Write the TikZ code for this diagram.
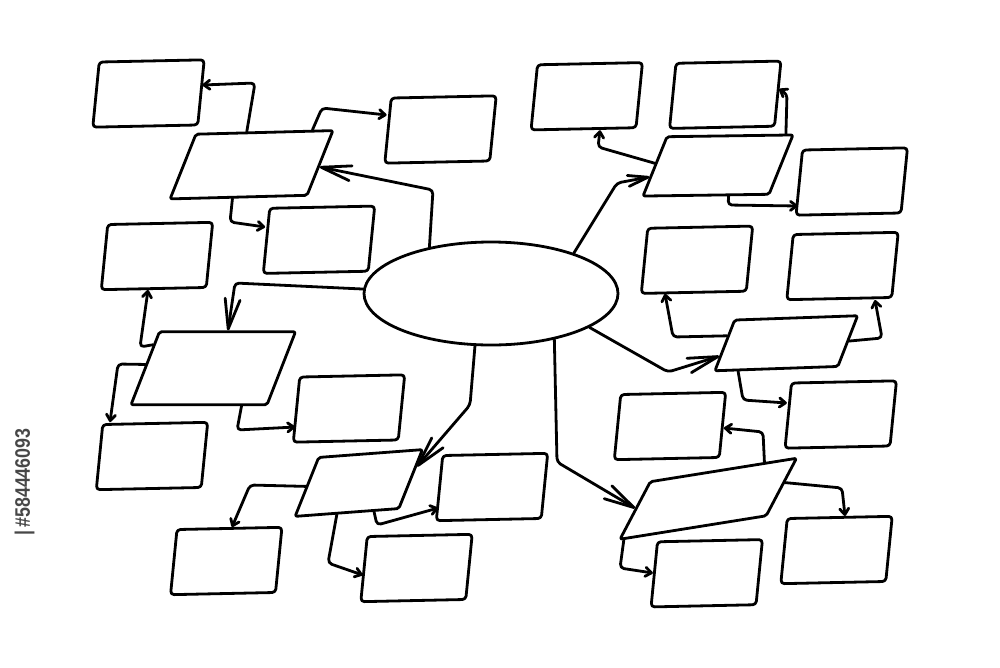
\documentclass[tikz,border=0pt]{standalone}
\usepackage{fontspec}
\newfontfamily\stockfont{Liberation Sans}
\usetikzlibrary{arrows.meta,shapes.geometric,calc}

\tikzset{
  ink/.style={line width=2.8pt, line cap=round, line join=round},
  card/.style={ink, draw, rounded corners=3.5pt, minimum width=105pt,
    minimum height=65pt, rotate=1.2, xslant=.12},
  slab/.style n args={4}{ink, draw, rounded corners=2pt, minimum width=#1,
    minimum height=#2, rotate=#3, xslant=#4},
  twig/.style={ink, rounded corners=4pt, -{Straight Barb[round,length=6pt,width=9pt]}},
  shoot/.style={ink, rounded corners=4pt, -{Straight Barb[round,length=20pt,width=11pt]}},
  limb/.style={ink, rounded corners=4pt, -{Straight Barb[round,length=30pt,width=15pt]}},
}

\begin{document}
\begin{tikzpicture}[x=1pt,y=-1pt]
  \useasboundingbox[fill=white] (0,0) rectangle (1000,667);

  % centre
  \node[ellipse, ink, draw, minimum width=254pt, minimum height=103pt] (hub) at (491,293.5) {};

  % branches
  \node[slab={137pt}{64pt}{1.5}{.43}] (p1) at (251.5,164.75) {};
  \node[slab={126pt}{59pt}{.8}{.42}] (p2) at (718,165.5) {};
  \node[slab={136pt}{73pt}{0}{.39}] (p3) at (213.25,368.25) {};
  \node[slab={104pt}{57pt}{4.3}{.49}] (p4) at (358.75,483) {};
  \node[slab={123pt}{50pt}{2}{.43}] (p5) at (786.25,343.25) {};
  \node[slab={148pt}{52pt}{9.1}{.75}] (p6) at (708.25,498.75) {};

  % leaves
  \node[card] (p1a) at (148.5,93.5) {};
  \node[card] (p1b) at (440.5,129.5) {};
  \node[card] (p1c) at (319,239.75) {};
  \node[card] (p2a) at (586.75,96.25) {};
  \node[card] (p2b) at (725.25,94.75) {};
  \node[card] (p2c) at (851.75,181.5) {};
  \node[card] (p3a) at (157,256) {};
  \node[card] (p3b) at (152,456) {};
  \node[card] (p3c) at (349,408.5) {};
  \node[card] (p4a) at (226.25,561) {};
  \node[card] (p4b) at (416.5,568) {};
  \node[card] (p4c) at (492,487) {};
  \node[card] (p5a) at (697,259.75) {};
  \node[card] (p5b) at (842.5,266) {};
  \node[card] (p5c) at (840.75,414.5) {};
  \node[card] (p6a) at (670,426) {};
  \node[card] (p6b) at (836.5,550) {};
  \node[card] (p6c) at (706.75,573.25) {};

  % upper left
  \draw[limb] (hub.143) -- (433,190) -- ($(p1.north east)!.56!(p1.south east)$);
  \draw[twig] ($(p1.north west)!.37!(p1.north east)$) -- (255,83) -- (p1a.east |- 0,85);
  \draw[twig] ($(p1.north west)!.84!(p1.north east)$) -- (322,108) -- (p1b.west |- 0,115);
  \draw[twig] ($(p1.south west)!.46!(p1.south east)$) -- (230,222) -- (p1c.west |- 0,227);

  % upper right
  \draw[shoot] (hub.26) -- (617,183) -- ($(p2.south west)!.33!(p2.north west)$);
  \draw[twig] ($(p2.south west)!.55!(p2.north west)$) -- (598,147) -- (p2a.south -| 600,0);
  \draw[twig] ($(p2.north west)!.93!(p2.north east)$) -- (787,94) -- (p2b.east |- 0,89);
  \draw[twig] ($(p2.south west)!.68!(p2.south east)$) -- (728,205) -- (p2c.west |- 0,206);

  % left
  \draw[limb] (hub.178) -- (235,283) -- (p3.north -| 228,0);
  \draw[twig] ($(p3.south west)!.81!(p3.north west)$) -- (140,347) -- (p3a.south -| 148,0);
  \draw[twig] ($(p3.south west)!.55!(p3.north west)$) -- (118,364) -- (p3b.north -| 110,0);
  \draw[twig] ($(p3.south west)!.81!(p3.south east)$) -- (237,430) -- (p3c.west |- 0,427);

  % lower centre
  \draw[limb] (hub.253) -- (470,405) -- ($(p4.north east)!.3!(p4.south east)$);
  \draw[twig] ($(p4.south west)!.51!(p4.north west)$) -- (250,485) -- (p4a.north -| 232,0);
  \draw[twig] ($(p4.south west)!.41!(p4.south east)$) -- (328,563) -- (p4b.west |- 0,575);
  \draw[twig] ($(p4.south west)!.76!(p4.south east)$) -- (377,525) -- (p4c.west |- 0,508);

  % right
  \draw[limb] (hub.341) -- (668,372) -- ($(p5.south west)!.3!(p5.north west)$);
  \draw[twig] ($(p5.south west)!.68!(p5.north west)$) -- (673,337) -- (p5a.south -| 665,0);
  \draw[twig] ($(p5.north east)!.5!(p5.south east)$) -- (882,338) -- (p5b.south -| 875,0);
  \draw[twig] ($(p5.south west)!.2!(p5.south east)$) -- (743,400) -- (p5c.west |- 0,403);

  % lower right
  \draw[limb] (hub.324) -- (557,462) -- ($(p6.south west)!.54!(p6.north west)$);
  \draw[twig] ($(p6.north west)!.77!(p6.north east)$) -- (763,432) -- (p6a.east |- 0,428);
  \draw[twig] ($(p6.north east)!.43!(p6.south east)$) -- (842,488) -- (p6b.north -| 845,0);
  \draw[twig] ($(p6.south west)!.04!(p6.south east)$) -- (620,568) -- (p6c.west |- 0,573);

  \node[rotate=90, xscale=.85, inner sep=0pt, text=black!72,
    font=\stockfont\bfseries\fontsize{21}{21}\selectfont] (stockid) at (24.5,482) {|\,\#584446093};
\end{tikzpicture}
\end{document}
